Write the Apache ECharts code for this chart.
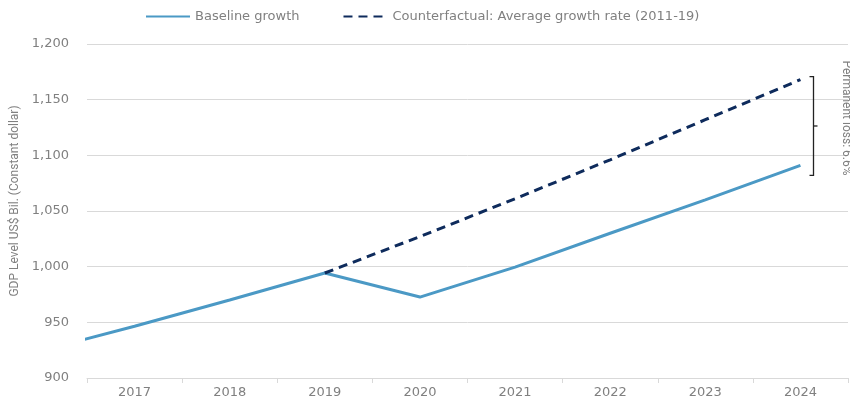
<!DOCTYPE html>
<html>
<head>
<meta charset="utf-8">
<script src="https://cdn.jsdelivr.net/npm/echarts@6/dist/echarts.min.js"></script>
<style>
  html, body { margin: 0; padding: 0; background: #fff; }
  #chart { width: 850px; height: 399px; }
</style>
</head>
<body>
<div id="chart"></div>
<script>
// Year labels shown on the category axis
const years = ['2017', '2018', '2019', '2020', '2021', '2022', '2023', '2024'];
// Years for the plotted points (2016 sits just left of the visible window)
const baselineYears = [2016, 2017, 2018, 2019, 2020, 2021, 2022, 2023, 2024];
const baselineGdp = [924, 946.5, 970, 994.3, 972.7, 999.6, 1030, 1060, 1091];
const counterYears = [2019, 2020, 2021, 2022, 2023, 2024];
const counterGdp = [994.3, 1027, 1061, 1096, 1132, 1168];
const yTicks = [900, 950, 1000, 1050, 1100, 1150, 1200];

const FONT = '"DejaVu Sans", sans-serif';
const GREY = '#808080';

const chart = echarts.init(document.getElementById('chart'));

const pairs = (xs, ys) => xs.map((x, i) => [x, ys[i]]);

chart.setOption({
  animation: false,
  legend: {
    left: 140,
    top: 5,
    itemWidth: 44,
    itemHeight: 14,
    itemGap: 43,
    itemStyle: { opacity: 0 },
    textStyle: { color: GREY, fontFamily: FONT, fontSize: 13 },
    data: ['Baseline growth', 'Counterfactual: Average growth rate (2011-19)']
  },
  grid: { left: 87, right: 2, top: 44, bottom: 21, containLabel: false },
  xAxis: [
    {
      type: 'category',
      data: years,
      boundaryGap: true,
      axisLine: { lineStyle: { color: '#d9d9d9', width: 1 } },
      axisTick: { show: true, length: 5, lineStyle: { color: '#d9d9d9' } },
      axisLabel: { color: GREY, fontFamily: FONT, fontSize: 13, margin: 8 },
      splitLine: { show: false }
    },
    {
      type: 'value',
      min: 2016.5,
      max: 2024.5,
      show: false
    }
  ],
  yAxis: {
    type: 'value',
    min: yTicks[0],
    max: yTicks[yTicks.length - 1],
    interval: 50,
    name: 'GDP Level US$ Bil. (Constant dollar)',
    nameLocation: 'middle',
    nameGap: 66,
    nameTextStyle: { color: GREY, fontFamily: '"Liberation Sans Narrow", "Roboto", sans-serif', fontSize: 12, padding: [0, 0, 0, 20] },
    axisLine: { show: false },
    axisTick: { show: false },
    axisLabel: {
      color: GREY, fontFamily: FONT, fontSize: 13, margin: 18,
      formatter: v => v.toLocaleString('en-US')
    },
    splitLine: { lineStyle: { color: '#d9d9d9', width: 1 } }
  },
  series: [
    {
      name: 'Baseline growth',
      type: 'line',
      xAxisIndex: 1,
      data: pairs(baselineYears, baselineGdp),
      symbol: 'none',
      lineStyle: { color: '#4b99c5', width: 3 },
      itemStyle: { color: '#4b99c5' },
      z: 3
    },
    {
      name: 'Counterfactual: Average growth rate (2011-19)',
      type: 'line',
      xAxisIndex: 1,
      data: pairs(counterYears, counterGdp),
      symbol: 'none',
      lineStyle: { color: '#0e2b5c', width: 3, type: [9, 6] },
      itemStyle: { color: '#0e2b5c' },
      z: 4
    }
  ]
});

// Bracket showing the gap between the two paths in the final year
const lastYear = counterYears[counterYears.length - 1];
const cfEnd = counterGdp[counterGdp.length - 1];
const baseEnd = baselineGdp[baselineGdp.length - 1];
const pTop = chart.convertToPixel({ xAxisIndex: 1, yAxisIndex: 0 }, [lastYear, cfEnd]);
const pBot = chart.convertToPixel({ xAxisIndex: 1, yAxisIndex: 0 }, [lastYear, baseEnd]);
const bx = Math.round(pTop[0] + 13) + 0.5;
const bTop = pTop[1] - 3;
const bBot = pBot[1] + 10;
const bMid = (bTop + bBot) / 2;
const lossPct = ((1 - baseEnd / cfEnd) * 100).toFixed(1);
const stroke = { stroke: '#222', lineWidth: 1.3 };

chart.setOption({
  graphic: [
    { type: 'polyline', shape: { points: [[bx - 4, bTop], [bx, bTop], [bx, bBot], [bx - 4, bBot]] }, style: Object.assign({ fill: null }, stroke) },
    { type: 'line', shape: { x1: bx, y1: bMid, x2: bx + 4, y2: bMid }, style: stroke },
    {
      type: 'text',
      x: 846,
      y: bMid - 8,
      rotation: -Math.PI / 2,
      style: {
        text: 'Permanent loss: ' + lossPct + '%',
        fill: GREY,
        font: '12px "Liberation Sans Narrow", "Roboto", sans-serif',
        align: 'center',
        verticalAlign: 'middle'
      }
    }
  ]
});
</script>
</body>
</html>
